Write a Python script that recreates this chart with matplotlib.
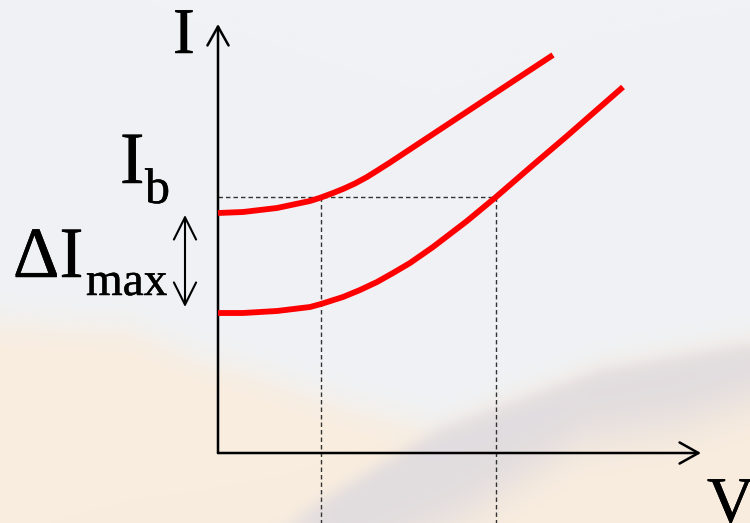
import numpy as np
import matplotlib
matplotlib.use('Agg')
import matplotlib.pyplot as plt
import matplotlib.patheffects as pe

# ---- data (schematic units: V horizontal, I vertical) ----
V_upper = [0.00, 0.25, 0.59, 0.92, 1.03, 1.15, 1.25, 1.37, 1.49, 1.61, 1.72, 2.00, 2.50, 3.00, 3.35]
I_upper = [2.40, 2.41, 2.45, 2.52, 2.555, 2.60, 2.64, 2.695, 2.76, 2.835, 2.905, 3.09, 3.42, 3.75, 3.98]
V_lower = [0.00, 0.25, 0.59, 0.92, 1.03, 1.25, 1.42, 1.59, 1.75, 1.92, 2.15, 2.49, 2.78, 3.15, 3.49, 4.05]
I_lower = [1.40, 1.40, 1.42, 1.46, 1.49, 1.56, 1.63, 1.71, 1.80, 1.90, 2.06, 2.32, 2.56, 2.88, 3.17, 3.66]
I_b = 2.56
V_mark = [1.03, 2.78]
dI_range = [2.38, 1.46]
axis_V_max = 4.83
axis_I_max = 4.29

XL = (-2.18, 5.32)
YL = (-0.70, 4.53)

fig = plt.figure(figsize=(7.5, 5.23), dpi=100)
ax = fig.add_axes([0, 0, 1, 1])
ax.set_xlim(*XL)
ax.set_ylim(*YL)
ax.axis('off')

# ---- background (light sky with blurred sandy dunes) ----
H, W = 523, 750
yy, xx = np.mgrid[0:H, 0:W].astype(float)
sky = np.array([240, 242, 245]) / 255
warm = np.array([249, 237, 222]) / 255
shade = np.array([225, 220, 223]) / 255
yb = np.interp(xx, [0, 130, 200, 250, 350, 437, 600, 733, 750],
               [323, 330, 360, 373, 407, 430, 370, 347, 345])
m_warm = 1 / (1 + np.exp(-(yy - yb) / 10))
img = sky * (1 - m_warm[..., None]) + warm * m_warm[..., None]
yU = np.interp(xx, [283, 437, 600, 733, 750], [523, 430, 370, 347, 345])
yL = np.interp(xx, [283, 450, 583, 683, 750], [600, 523, 440, 423, 400])
m_band = (1 / (1 + np.exp(-(yy - yU) / 5))) * (1 / (1 + np.exp(-(yL - yy) / 14)))
m_band *= 1 / (1 + np.exp(-(xx - 290) / 12))
img = img * (1 - m_band[..., None]) + shade * m_band[..., None]
ax.imshow(img, extent=[XL[0], XL[1], YL[0], YL[1]], aspect='auto', zorder=0,
          interpolation='bilinear')

# ---- axes arrows ----
akw = dict(arrowstyle='->,head_length=0.68,head_width=0.38', lw=1.8, color='black',
           mutation_scale=20, shrinkA=0, shrinkB=0)
ax.annotate('', xy=(0, axis_I_max), xytext=(0, 0), arrowprops=akw, zorder=3)
ax.annotate('', xy=(axis_V_max, 0), xytext=(0, 0), arrowprops=akw, zorder=3)

# ---- dashed guide lines ----
dkw = dict(color='#333333', lw=1.0, dashes=(3.2, 2.2), zorder=2)
ax.plot([0, V_mark[1]], [I_b, I_b], **dkw)
for v in V_mark:
    ax.plot([v, v], [I_b, YL[0]], **dkw)

# ---- curves ----
for vv, ii in ((V_upper, I_upper), (V_lower, I_lower)):
    ax.plot(vv, ii, color='#ff0000', lw=4.2, solid_capstyle='butt',
            solid_joinstyle='round', zorder=4)

# ---- double arrow for delta I ----
ax.annotate('', xy=(-0.33, dI_range[0]), xytext=(-0.33, dI_range[1]),
            arrowprops=dict(arrowstyle='<->,head_length=0.8,head_width=0.4', lw=1.5,
                            color='black', mutation_scale=20, shrinkA=0, shrinkB=0),
            zorder=3)

# ---- labels ----
serif = 'Liberation Serif'
fx = [pe.withStroke(linewidth=0.35, foreground='black')]
tkw = dict(family=serif, ha='left', va='baseline', color='black', path_effects=fx)
ax.text(-0.45, 4.00, 'I', fontsize=47, **tkw)
ax.text(4.89, -0.69, 'V', fontsize=47, **tkw)
ax.text(-0.98, 2.70, 'I', fontsize=53, **tkw)
ax.text(-0.73, 2.50, 'b', fontsize=36, **tkw)
ax.text(-2.05, 1.76, '\u0394I', fontsize=52, **tkw)
ax.text(-1.32, 1.58, 'max', fontsize=34, **tkw)

fig.savefig('out.png', dpi=100)
